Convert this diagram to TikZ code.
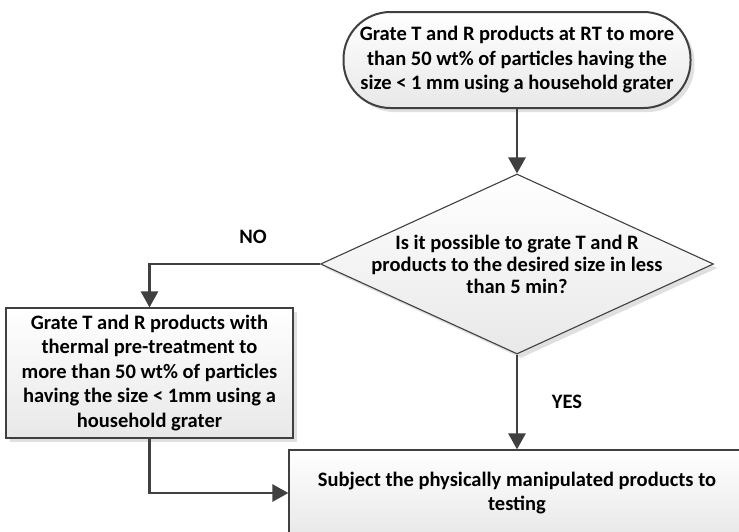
\documentclass[tikz,border=0pt]{standalone}
\usepackage{fontspec}
\setmainfont{Carlito}
\usepackage{tikz}
\usetikzlibrary{positioning, calc}
\usetikzlibrary{arrows.meta}
\usetikzlibrary{shapes,arrows,shadows}
\definecolor{edge}{HTML}{404040}

\begin{document}
\begin{tikzpicture}[x=1pt,y=1pt,>={Triangle[width=17pt,length=16pt]},font=\bfseries\fontsize{20.5}{24.5}\selectfont]

	\tikzstyle{f-shade}=[top color=white,bottom color=black!9,drop shadow={shadow xshift=4pt,shadow yshift=-4pt,fill=black!12,opacity=1}]
	\tikzstyle{term}=[f-shade,rectangle,rounded corners=47pt,minimum width=347pt,minimum height=96pt,inner sep=0pt,align=center,draw=edge,line width=2pt]
	\tikzstyle{decide}=[f-shade,diamond,aspect=2.18,inner sep=-10pt,minimum width=393pt,minimum height=180pt,align=center,draw=edge,line width=1.1pt]
	\tikzstyle{procbox}=[f-shade,rectangle,inner sep=0pt,align=center,draw=edge,line width=1.2pt]
	\tikzstyle{flow}=[draw=edge,line width=2.7pt]

	\useasboundingbox (0,0) rectangle (739,-531);
	\clip (0,0) rectangle (739,-531);

	% steps
	\node[term]	(grate)	at (517,-60)	{Grate T and R products at RT to more\\than 50 wt\% of particles having the\\size < 1 mm using a household grater};
	\node[decide,font=\bfseries\fontsize{20.5}{22}\selectfont]	(check)	at (517,-264)	{Is it possible to grate T and R\\products to the desired size in less\\than 5 min?};
	\node[procbox,minimum width=287pt,minimum height=130pt]	(pretreat)	at (149.5,-373)	{Grate T and R products with\\thermal pre-treatment to\\more than 50 wt\% of particles\\having the size < 1mm using a\\household grater};
	\node[procbox,minimum width=456pt,minimum height=86pt]	(test)	at (517,-493)	{Subject the physically manipulated products to\\testing};

	% labels
	\node	(nolabel)	at (253,-237)	{NO};
	\node	(yeslabel)	at (567,-402)	{YES};

	% connectors
	\draw[flow,->] (grate) -- (check);
	\draw[flow,->] (check.west) -| (pretreat.north);
	\draw[flow,->] (check.south) -- (test.north);
	\draw[flow,->] (pretreat.south) |- (test.west);
\end{tikzpicture}
\end{document}
